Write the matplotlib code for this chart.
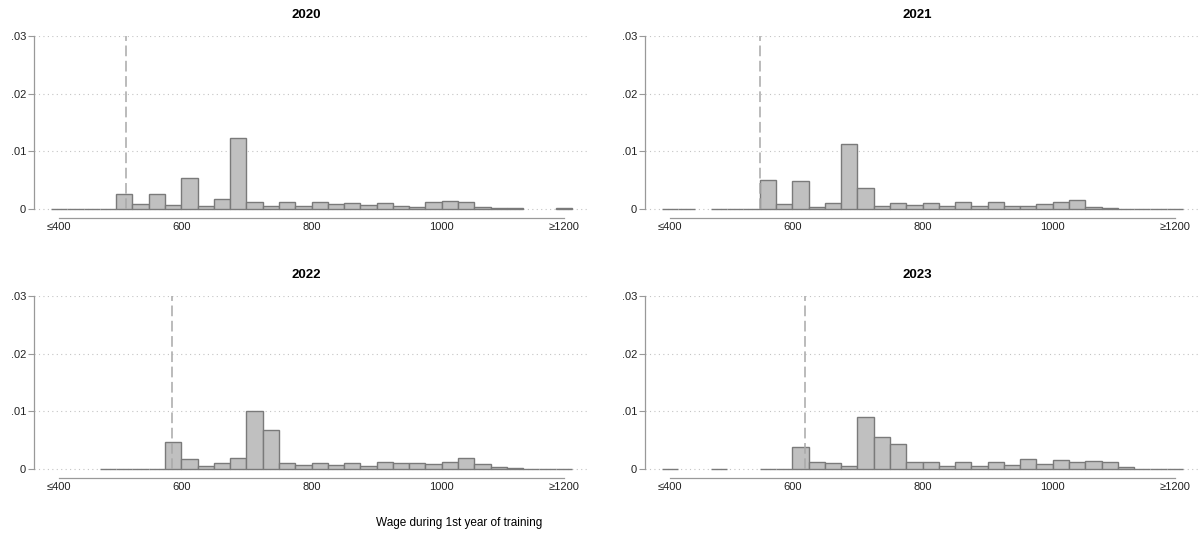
import matplotlib
matplotlib.use("Agg")
import matplotlib.pyplot as plt
import numpy as np

plt.rcParams['font.family'] = ['Liberation Sans', 'DejaVu Sans']

# histogram bins: width 25, left edges from 400 (<=400 and >=1200 collapsed into end bins)
bin_left = np.arange(400, 1200, 25)
bin_width = 25

years = ["2020", "2021", "2022", "2023"]
min_wage = [515, 550, 585, 620]

dens_2020 = [0.00005, 0.00002, 0.00003, 0.00004, 0.0026, 0.0008, 0.00255, 0.0007,
             0.0054, 0.00045, 0.0017, 0.0123, 0.0012, 0.0006, 0.0012, 0.00045,
             0.0012, 0.0009, 0.001, 0.0007, 0.001, 0.0006, 0.0003, 0.00115,
             0.0014, 0.0012, 0.0003, 0.0001, 0.0001, 0, 0, 0.0001]
dens_2021 = [0.00005, 0.00005, 0, 0.00004, 0.00004, 0.00004, 0.0051, 0.0009,
             0.0048, 0.0004, 0.001, 0.0112, 0.0037, 0.0006, 0.001, 0.0007,
             0.001, 0.0006, 0.0012, 0.0006, 0.0013, 0.0006, 0.0006, 0.0009,
             0.0012, 0.0015, 0.0003, 0.0001, 0.00008, 0.00008, 0.00005, 0.00008]
dens_2022 = [0, 0, 0, 0.00004, 0.00004, 0.00004, 0.00003, 0.0046,
             0.0017, 0.00045, 0.0011, 0.0019, 0.0100, 0.0068, 0.001, 0.0007,
             0.0011, 0.0007, 0.0011, 0.0006, 0.0013, 0.001, 0.001, 0.0009,
             0.0013, 0.0019, 0.0008, 0.0003, 0.0001, 0.00006, 0.00006, 0.00008]
dens_2023 = [0.00005, 0, 0, 0.00005, 0, 0, 0.00003, 0.00003,
             0.0038, 0.0012, 0.001, 0.0006, 0.0091, 0.0055, 0.0043, 0.0012,
             0.0012, 0.00045, 0.0012, 0.0006, 0.0013, 0.0007, 0.0018, 0.0008,
             0.0015, 0.0012, 0.0014, 0.0012, 0.0003, 0.00008, 0.00005, 0.00008]
densities = [dens_2020, dens_2021, dens_2022, dens_2023]

xtick_pos = [412.5, 600, 800, 1000, 1187.5]
xtick_lab = ["\u2264400", "600", "800", "1000", "\u22651200"]
ytick_pos = [0, 0.01, 0.02, 0.03]
ytick_lab = ["0", ".01", ".02", ".03"]

W, H = 1200, 536
fig = plt.figure(figsize=(W / 100, H / 100), dpi=100)

# axes placement in pixels: (left, bottom spine y)
lefts = [33.7, 644.7]
bottoms = [218, 478]
ax_w = 554.5
ax_h = 182

for i, yr in enumerate(years):
    col = i % 2
    row = i // 2
    l = lefts[col] / W
    b = 1 - bottoms[row] / H
    ax = fig.add_axes([l, b, ax_w / W, ax_h / H])

    d = np.array(densities[i])
    keep = d > 0
    ax.bar(bin_left[keep], d[keep], width=bin_width, align='edge',
           color='#c0c0c0', edgecolor='#7a7a7a', linewidth=1.0, zorder=3)

    ax.plot([min_wage[i], min_wage[i]], [0, 0.03], color='#a8a8a8',
            linestyle=(0, (7, 3)), linewidth=1.1, zorder=4, clip_on=False)

    for yv in ytick_pos:
        ax.axhline(yv, color='#c4c4c4', linestyle=(0, (1, 3)), linewidth=0.8, zorder=1)

    ax.set_xlim(373.3, 1225)
    ax.set_ylim(-0.00156, 0.03)

    ax.set_xticks(xtick_pos)
    ax.set_xticklabels(xtick_lab)
    ax.set_yticks(ytick_pos)
    ax.set_yticklabels(ytick_lab)
    ax.tick_params(axis='x', length=0, pad=3, labelsize=8, colors='#222222')
    ax.tick_params(axis='y', length=4, width=0.8, pad=1.5, labelsize=8,
                   colors='#999999', labelcolor='#222222')

    for s in ['top', 'right']:
        ax.spines[s].set_visible(False)
    ax.spines['left'].set_bounds(0, 0.03)
    ax.spines['left'].set_color('#999999')
    ax.spines['left'].set_linewidth(0.9)
    ax.spines['bottom'].set_bounds(412.5, 1187.5)
    ax.spines['bottom'].set_color('#999999')
    ax.spines['bottom'].set_linewidth(0.9)

    ax.set_title(yr, fontsize=9.5, fontweight='bold', pad=0, y=1.0)
    ax.title.set_position((0.49, 1.0))
    ax.title.set_y(1.0)

# place titles in pixel terms
for i, ax in enumerate(fig.axes):
    ax.title.set_visible(False)
    col = i % 2
    row = i // 2
    cx = (306 + 611 * col) / W
    cy = 1 - (15 + 260 * row) / H
    fig.text(cx, cy, years[i], ha='center', va='center', fontsize=9.5,
             fontweight='bold')

fig.text(459 / W, 1 - 523 / H, "Wage during 1st year of training",
         ha='center', va='center', fontsize=8.5)

fig.savefig("out.png", dpi=100, facecolor='white')
